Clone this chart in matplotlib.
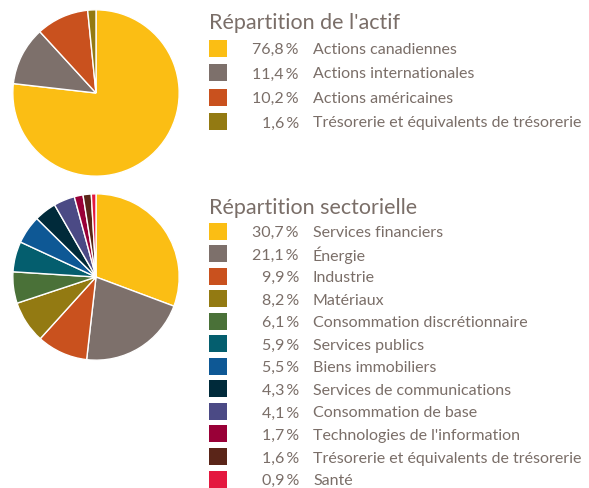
import matplotlib
matplotlib.use("Agg")
import matplotlib.pyplot as plt
from matplotlib.patches import Rectangle

# Répartition de l'actif
actif_labels = ["Actions canadiennes", "Actions internationales",
                "Actions américaines", "Trésorerie et équivalents de trésorerie"]
actif_values = [76.8, 11.4, 10.2, 1.6]
actif_colors = ["#FBBE14", "#7D706B", "#C9511E", "#937A12"]

# Répartition sectorielle
secteur_labels = ["Services financiers", "Énergie", "Industrie", "Matériaux",
                  "Consommation discrétionnaire", "Services publics",
                  "Biens immobiliers", "Services de communications",
                  "Consommation de base", "Technologies de l'information",
                  "Trésorerie et équivalents de trésorerie", "Santé"]
secteur_values = [30.7, 21.1, 9.9, 8.2, 6.1, 5.9, 5.5, 4.3, 4.1, 1.7, 1.6, 0.9]
secteur_colors = ["#FBBE14", "#7D706B", "#C9511E", "#937A12", "#4A7138",
                  "#045E6E", "#0E5895", "#002A3A", "#4B4A85", "#990037",
                  "#5A2518", "#E4183F"]

W, H = 589, 489
TXT = "#7A6E68"
plt.rcParams['font.family'] = ['Lato', 'DejaVu Sans']

fig = plt.figure(figsize=(W / 100, H / 100), dpi=100)


def pie_axes(cx, cy, r):
    ax = fig.add_axes([(cx - r) / W, 1 - (cy + r) / H, 2 * r / W, 2 * r / H])
    ax.axis("off")
    return ax


ax1 = pie_axes(96, 94, 84)
ax1.pie(actif_values, colors=actif_colors, startangle=90, counterclock=False,
        radius=1, wedgeprops=dict(edgecolor="white", linewidth=1))
ax1.set_xlim(-1.01, 1.01)
ax1.set_ylim(-1.01, 1.01)

ax2 = pie_axes(96, 278, 84)
ax2.pie(secteur_values, colors=secteur_colors, startangle=90, counterclock=False,
        radius=1, wedgeprops=dict(edgecolor="white", linewidth=1))
ax2.set_xlim(-1.01, 1.01)
ax2.set_ylim(-1.01, 1.01)

# overlay in pixel coordinates for the legends
ov = fig.add_axes([0, 0, 1, 1])
ov.set_xlim(0, W)
ov.set_ylim(H, 0)
ov.axis("off")


def fmt(v):
    return f"{v:.1f}".replace(".", ",") + "\u2009%"


def legend(title, title_y, labels, values, colors, y0, dy):
    ov.text(209, title_y, title, fontsize=15.5, color=TXT, va="center", ha="left")
    for i, (lab, val, col) in enumerate(zip(labels, values, colors)):
        y = y0 + i * dy
        ov.add_patch(Rectangle((209, y - 8.5), 18, 17, facecolor=col, edgecolor="none"))
        ov.text(299, y + 1, fmt(val), fontsize=11.5, color=TXT, va="center", ha="right")
        ov.text(313, y + 1, lab, fontsize=11.5, color=TXT, va="center", ha="left")


legend("Répartition de l'actif", 23, actif_labels, actif_values, actif_colors, 49, 24.5)
legend("Répartition sectorielle", 208, secteur_labels, secteur_values, secteur_colors, 232, 22.55)

fig.savefig("out.png", dpi=100)
